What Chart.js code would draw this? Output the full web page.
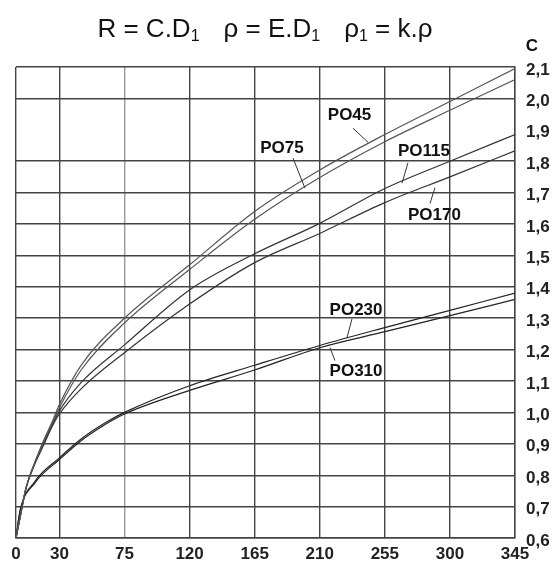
<!DOCTYPE html>
<html>
<head>
<meta charset="utf-8">
<script src="https://cdn.jsdelivr.net/npm/chart.js@4.4.1/dist/chart.umd.min.js"></script>
<style>
  html, body { margin: 0; padding: 0; background: #fff; }
  #wrap { width: 552px; height: 566px; position: relative; }
</style>
</head>
<body>
<div id="wrap"><canvas id="chart" width="552" height="566"></canvas></div>
<script>
// horizontal axis ticks and vertical range
const xTicks = [0, 30, 75, 120, 165, 210, 255, 300, 345];
const yMin = 0.6;
const yMax = 2.1;

// upper four curves
const xTop = [0, 3, 7, 13, 19, 25, 30, 45, 75, 120, 165, 210, 255, 300, 345];
const po45 = [0.60, 0.67, 0.76, 0.84, 0.91, 0.97, 1.025, 1.15, 1.30, 1.47, 1.64, 1.772, 1.885, 1.99, 2.095];
const po75 = [0.60, 0.67, 0.76, 0.84, 0.905, 0.965, 1.015, 1.135, 1.285, 1.455, 1.615, 1.748, 1.862, 1.962, 2.06];
const po115 = [0.60, 0.67, 0.76, 0.84, 0.90, 0.96, 1.005, 1.095, 1.215, 1.39, 1.505, 1.602, 1.713, 1.80, 1.885];
const po170 = [0.60, 0.67, 0.76, 0.835, 0.895, 0.955, 0.995, 1.075, 1.19, 1.345, 1.477, 1.57, 1.668, 1.75, 1.833];

// lower two curves
const xLow = [0, 3, 13, 30, 45, 60, 75, 120, 165, 210, 255, 300, 345];
const po230 = [0.60, 0.69, 0.78, 0.855, 0.915, 0.962, 1.0, 1.085, 1.15, 1.213, 1.27, 1.325, 1.38];
const po310 = [0.60, 0.69, 0.775, 0.85, 0.91, 0.957, 0.995, 1.07, 1.135, 1.206, 1.257, 1.308, 1.36];

// curve names with text spot and leader line, in data units
const curveLabels = [
    { text: 'PO45',  at: [230.6, 1.945], from: [233, 1.905], to: [243.4, 1.860] },
    { text: 'PO75',  at: [183.9, 1.840], from: [191.5, 1.810], to: [199.8, 1.714] },
    { text: 'PO115', at: [282.1, 1.830], from: [271, 1.795], to: [266.9, 1.730] },
    { text: 'PO170', at: [289.3, 1.628], from: [286.2, 1.665], to: [289.7, 1.716] },
    { text: 'PO230', at: [235.1, 1.325], from: [232.3, 1.298], to: [228.8, 1.237] },
    { text: 'PO310', at: [235.1, 1.131], from: [220.5, 1.165], to: [217.1, 1.206] }
];

const LABEL_FONT = 'bold 17px "Liberation Sans", Arial, sans-serif';

function toPoints(xs, ys) {
    return xs.map((x, i) => ({ x: x, y: ys[i] }));
}

function curve(label, xs, ys, color) {
    return {
        label: label,
        data: toPoints(xs, ys),
        borderColor: color,
        borderWidth: 1.2,
        pointRadius: 0,
        fill: false,
        cubicInterpolationMode: 'monotone'
    };
}

// title with subscripts, the "C" axis name and the curve names
const annotations = {
    id: 'annotations',
    afterDraw(chart) {
        const ctx = chart.ctx;
        const xs = chart.scales.x;
        const ys = chart.scales.y;
        const area = chart.chartArea;

        ctx.save();
        ctx.fillStyle = '#111';
        ctx.strokeStyle = '#333';
        ctx.lineWidth = 1;

        // title
        const big = '26px "Liberation Sans", Arial, sans-serif';
        const small = '16px "Liberation Sans", Arial, sans-serif';
        const sx = 1.0;
        const parts = [
            ['R = C.D', big, 0], ['1', small, 4], [null, 24],
            ['\u03c1 = E.D', big, 0], ['1', small, 4], [null, 24],
            ['\u03c1', big, 0], ['1', small, 4], [' = k.\u03c1', big, 0]
        ];
        let total = 0;
        parts.forEach(p => {
            if (p[0] === null) { total += p[1]; return; }
            ctx.font = p[1];
            total += ctx.measureText(p[0]).width * sx;
        });
        let cx = 265 - total / 2;
        const base = 37;
        ctx.textAlign = 'left';
        ctx.textBaseline = 'alphabetic';
        parts.forEach(p => {
            if (p[0] === null) { cx += p[1]; return; }
            ctx.font = p[1];
            const w = ctx.measureText(p[0]).width * sx;
            ctx.save();
            ctx.translate(cx, base + p[2]);
            ctx.scale(sx, 1);
            ctx.fillText(p[0], 0, 0);
            ctx.restore();
            cx += w;
        });

        // axis name
        ctx.font = LABEL_FONT;
        ctx.textAlign = 'center';
        ctx.textBaseline = 'middle';
        ctx.fillText('C', area.right + 17, area.top - 21);

        // curve names
        curveLabels.forEach(l => {
            ctx.beginPath();
            ctx.moveTo(xs.getPixelForValue(l.from[0]), ys.getPixelForValue(l.from[1]));
            ctx.lineTo(xs.getPixelForValue(l.to[0]), ys.getPixelForValue(l.to[1]));
            ctx.stroke();
            ctx.fillText(l.text, xs.getPixelForValue(l.at[0]), ys.getPixelForValue(l.at[1]));
        });
        ctx.restore();
    }
};

const ctx = document.getElementById('chart').getContext('2d');
const chart = new Chart(ctx, {
    type: 'line',
    data: {
        datasets: [
            curve('PO45', xTop, po45, '#555'),
            curve('PO75', xTop, po75, '#555'),
            curve('PO115', xTop, po115, '#333'),
            curve('PO170', xTop, po170, '#333'),
            curve('PO230', xLow, po230, '#222'),
            curve('PO310', xLow, po310, '#222')
        ]
    },
    options: {
        responsive: false,
        animation: false,
        devicePixelRatio: 1,
        layout: { padding: { left: 16, top: 67, right: 0, bottom: 0 } },
        plugins: {
            legend: { display: false },
            tooltip: { enabled: false }
        },
        scales: {
            x: {
                type: 'linear',
                min: 0,
                max: 345,
                afterBuildTicks: s => { s.ticks = xTicks.map(v => ({ value: v })); },
                afterFit: s => { s.height = 28; },
                border: { display: true, color: '#444', width: 1.4 },
                grid: {
                    drawTicks: false,
                    lineWidth: 1.4,
                    color: c => (c.tick && c.tick.value === 75 ? '#9a9a9a' : '#444')
                },
                ticks: {
                    autoSkip: false,
                    maxRotation: 0,
                    padding: 6,
                    color: '#222',
                    font: { family: '"Liberation Sans", Arial, sans-serif', size: 17, weight: 'bold' }
                }
            },
            y: {
                type: 'linear',
                position: 'right',
                min: yMin,
                max: yMax,
                afterFit: s => { s.width = 37; },
                border: { display: true, color: '#444', width: 1.4 },
                grid: {
                    drawTicks: false,
                    lineWidth: 1.4,
                    // the 1,9 line is missing in the original drawing
                    color: c => (c.tick && Math.abs(c.tick.value - 1.9) < 1e-6 ? 'rgba(0,0,0,0)' : '#444')
                },
                ticks: {
                    stepSize: 0.1,
                    autoSkip: false,
                    padding: 11,
                    labelOffset: 3,
                    color: '#222',
                    font: { family: '"Liberation Sans", Arial, sans-serif', size: 17, weight: 'bold' },
                    callback: v => v.toFixed(1).replace('.', ',')
                }
            }
        }
    },
    plugins: [annotations]
});
</script>
</body>
</html>
